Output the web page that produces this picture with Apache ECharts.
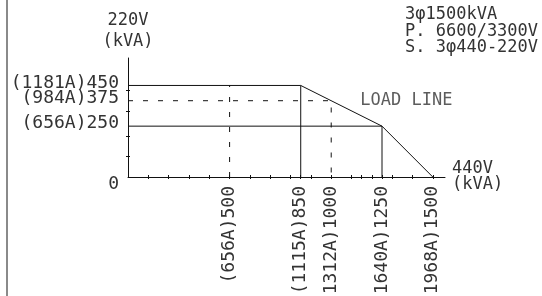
<!DOCTYPE html>
<html>
<head>
<meta charset="utf-8">
<script src="https://cdn.jsdelivr.net/npm/echarts@6/dist/echarts.min.js"></script>
<style>html,body{margin:0;padding:0;background:#fff}#c{width:542px;height:296px}</style>
</head>
<body>
<div id="c"></div>
<script>
// ---- data ----
const xLabelValues = [500, 850, 1000, 1250, 1500];
const xLabelAmps = ['656A', '1115A', '1312A', '1640A', '1968A'];
const yLabelValues = [0, 250, 375, 450];
const yLabelAmps = ['', '656A', '984A', '1181A'];
const xTickValues = [100, 200, 300, 400, 500, 600, 700, 800, 850, 900, 1000, 1100, 1150, 1200, 1250, 1300, 1400, 1500];
const yTickValues = [100, 200, 325, 425];
const loadLine = [[0, 450], [850, 450], [1250, 250], [1500, 0]];
const drop850 = [[850, 0], [850, 450]];
const line250 = [[0, 250], [1250, 250], [1250, 0]];
const dashed375 = [[0, 375], [1000, 375], [1000, 0]];
const dashed500 = [[500, 0], [500, 450]];
const loadLineLabelAt = [[1141, 374]];
const specLines = ['3φ1500kVA', 'P. 6600/3300V', 'S. 3φ440-220V'];

const FONT = '"DejaVu Sans Mono", "Liberation Mono", monospace';
const TXT = '#333';
const LN = '#111';

const chart = echarts.init(document.getElementById('c'), null, { renderer: 'canvas' });

function yFormatter(v) {
  const i = yLabelValues.indexOf(v);
  if (v === 0) return '{z|0}';
  return '{n|(' + yLabelAmps[i] + ')' + v + '}';
}
const yRich = {
  z: { fontFamily: FONT, fontSize: 18, color: TXT, padding: [15, 0, 0, 0] },
  n: { fontFamily: FONT, fontSize: 18, color: TXT, padding: [0, 0, 5, 0] }
};
// alternate labels between the two coincident y axes so none is dropped
const yLabelsMain = yLabelValues.filter((v, i) => i % 2 === 0);
const yLabelsTwin = yLabelValues.filter((v, i) => i % 2 === 1);

function axisPair(kind) {
  const isX = kind === 'x';
  const base = {
    type: 'value', min: 0, max: isX ? 1560 : 585,
    splitLine: { show: false }, position: isX ? 'bottom' : 'left'
  };
  const main = Object.assign({}, base, {
    axisLine: { show: true, onZero: false, lineStyle: { color: LN, width: 1 } },
    axisTick: { show: true, inside: true, length: 2, customValues: isX ? xTickValues : yTickValues, lineStyle: { color: LN } },
    axisLabel: isX ? {
      show: true, customValues: xLabelValues, rotate: 90, margin: 9, hideOverlap: false,
      fontFamily: FONT, fontSize: 18, color: TXT,
      formatter: v => '(' + xLabelAmps[xLabelValues.indexOf(v)] + ')' + v
    } : {
      show: true, customValues: yLabelsMain, margin: 9, hideOverlap: false,
      fontFamily: FONT, fontSize: 18, color: TXT, formatter: yFormatter, rich: yRich
    },
    name: isX ? '440V\n(kVA)' : '220V\n(kVA)',
    nameLocation: 'end',
    nameGap: isX ? 7 : 6,
    nameTextStyle: isX ? { fontFamily: FONT, fontSize: 17, color: TXT, lineHeight: 16, align: 'left', verticalAlign: 'middle' }
                       : { fontFamily: FONT, fontSize: 17, color: TXT, lineHeight: 21, align: 'center', verticalAlign: 'bottom' }
  });
  const twin = Object.assign({}, base, {
    axisLine: { show: false, onZero: false },
    axisTick: { show: true, inside: false, length: 2, customValues: isX ? xTickValues : yTickValues, lineStyle: { color: LN } },
    axisLabel: isX ? { show: false } : {
      show: true, customValues: yLabelsTwin, margin: 9, hideOverlap: false,
      fontFamily: FONT, fontSize: 18, color: TXT, formatter: yFormatter, rich: yRich
    }
  });
  return [main, twin];
}

function seg(data, dashed) {
  return {
    type: 'line', data: data, symbol: 'none', silent: true,
    lineStyle: { color: LN, width: 1, type: dashed ? [5, 10] : 'solid' }
  };
}

chart.setOption({
  animation: false,
  backgroundColor: '#fff',
  grid: { left: 128, right: 97, top: 58, bottom: 119, containLabel: false, outerBoundsMode: 'none' },
  xAxis: axisPair('x'),
  yAxis: axisPair('y'),
  series: [
    seg(loadLine, false),
    seg(drop850, false),
    seg(line250, false),
    seg(dashed375, true),
    seg(dashed500, true),
    {
      type: 'scatter', data: loadLineLabelAt, symbolSize: 1, itemStyle: { color: 'transparent' }, silent: true,
      label: { show: true, position: 'right', distance: 0, formatter: 'LOAD LINE', fontFamily: FONT, fontSize: 17, color: TXT }
    }
  ],
  graphic: [
    { type: 'rect', left: 6, top: 0, shape: { width: 2, height: 296 }, style: { fill: '#8a8a8a' } }
  ].concat(specLines.map((t, i) => ({
    type: 'text', x: 405, y: 15 + i * 16.5,
    style: { text: t, font: '17px ' + FONT, fill: TXT, textVerticalAlign: 'middle', textAlign: 'left' }
  })))
});
</script>
</body>
</html>
